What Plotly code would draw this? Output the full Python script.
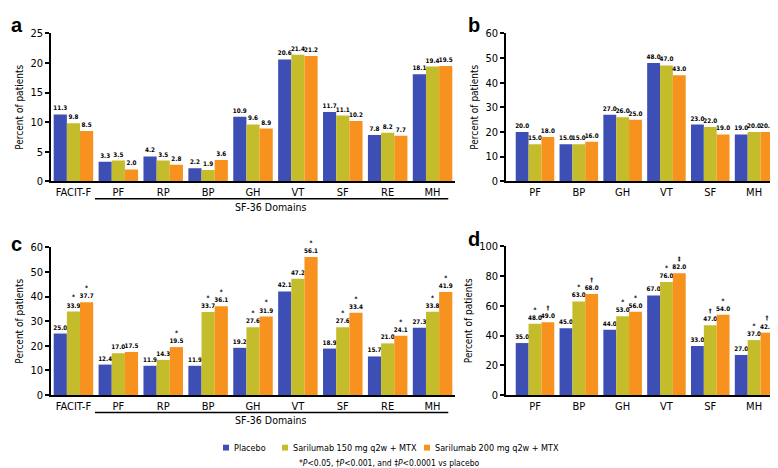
import plotly.graph_objects as go

# ---------------- data ----------------
cats_ac = ["FACIT-F", "PF", "RP", "BP", "GH", "VT", "SF", "RE", "MH"]
cats_bd = ["PF", "BP", "GH", "VT", "SF", "MH"]
series_names = ["Placebo", "Sarilumab 150 mg q2w + MTX", "Sarilumab 200 mg q2w + MTX"]

a_placebo = [11.3, 3.3, 4.2, 2.2, 10.9, 20.6, 11.7, 7.8, 18.1]
a_s150 = [9.8, 3.5, 3.5, 1.9, 9.6, 21.4, 11.1, 8.2, 19.4]
a_s200 = [8.5, 2.0, 2.8, 3.6, 8.9, 21.2, 10.2, 7.7, 19.5]

b_placebo = [20.0, 15.0, 27.0, 48.0, 23.0, 19.0]
b_s150 = [15.0, 15.0, 26.0, 47.0, 22.0, 20.0]
b_s200 = [18.0, 16.0, 25.0, 43.0, 19.0, 20.0]

c_placebo = [25.0, 12.4, 11.9, 11.9, 19.2, 42.1, 18.9, 15.7, 27.3]
c_s150 = [33.9, 17.0, 14.3, 33.7, 27.6, 47.2, 27.6, 21.0, 33.8]
c_s200 = [37.7, 17.5, 19.5, 36.1, 31.9, 56.1, 33.4, 24.1, 41.9]
c_sig150 = ["*", "", "", "*", "*", "", "*", "", "*"]
c_sig200 = ["*", "", "*", "*", "*", "*", "*", "*", "*"]

d_placebo = [35.0, 45.0, 44.0, 67.0, 33.0, 27.0]
d_s150 = [48.0, 63.0, 53.0, 76.0, 47.0, 37.0]
d_s200 = [49.0, 68.0, 56.0, 82.0, 54.0, 42.0]
d_sig150 = ["*", "*", "*", "*", "†", "*"]
d_sig200 = ["†", "†", "*", "‡", "*", "†"]

yticks_a = [0, 5, 10, 15, 20, 25]
yticks_b = [0, 10, 20, 30, 40, 50, 60]
yticks_c = [0, 10, 20, 30, 40, 50, 60]
yticks_d = [0, 20, 40, 60, 80, 100]

colors = ["#3d4fb4", "#c5bc2b", "#f7921e"]

# ---------------- layout helpers ----------------
W, H = 778, 468
FONT = "DejaVu Sans Condensed, Liberation Sans Narrow, Arial Narrow, sans-serif"


def px_x(p):
    return p / W


def px_y(p):
    return 1 - p / H


def labels(vals, sig=None):
    out = []
    for i, v in enumerate(vals):
        s = f"{v:.1f}"
        if sig and sig[i]:
            s = f"{sig[i]}<br>{s}"
        out.append(s)
    return out


fig = go.Figure()

panels = [
    ("", cats_ac, [a_placebo, a_s150, a_s200], [None, None, None]),
    ("2", cats_bd, [b_placebo, b_s150, b_s200], [None, None, None]),
    ("3", cats_ac, [c_placebo, c_s150, c_s200], [None, c_sig150, c_sig200]),
    ("4", cats_bd, [d_placebo, d_s150, d_s200], [None, d_sig150, d_sig200]),
]

for suffix, cats, series, sigs in panels:
    for k in range(3):
        fig.add_trace(go.Bar(
            x=cats, y=series[k], name=series_names[k],
            marker=dict(color=colors[k], line=dict(width=0)),
            text=labels(series[k], sigs[k]), textposition="outside",
            textfont=dict(size=6.3, color="black", family=FONT, weight="bold"),
            constraintext="none", cliponaxis=False,
            showlegend=False,
            xaxis="x" + suffix, yaxis="y" + suffix,
            hoverinfo="skip",
        ))

axis_common_x = dict(showline=True, linecolor="black", linewidth=1.5, ticks="",
                     showgrid=False, zeroline=False, type="category",
                     tickfont=dict(size=11, color="black", family=FONT))
axis_common_y = dict(showline=True, linecolor="black", linewidth=1.5, ticks="outside",
                     ticklen=4, tickcolor="black", tickwidth=1.5, showgrid=False, zeroline=False,
                     tickfont=dict(size=11, color="black", family=FONT),
                     title=dict(text="Percent of patients", font=dict(size=10, color="black", family=FONT),
                                standoff=5))

left_dom = [px_x(43), px_x(447)]
right_end = 768
right_dom = [px_x(498), px_x(right_end)]
step_bd = (right_end - 527) / 5.5
bd_left = -(527 - 498) / step_bd

fig.update_layout(
    width=W, height=H,
    margin=dict(l=0, r=0, t=0, b=0),
    paper_bgcolor="white", plot_bgcolor="white",
    barmode="group", bargap=0.12, bargroupgap=0,
    font=dict(family=FONT, color="black"),
    showlegend=False,
    xaxis=dict(axis_common_x, domain=left_dom, range=[-0.5, 8.5], anchor="y"),
    yaxis=dict(axis_common_y, domain=[px_y(172), px_y(20)], range=[0, 25], tickvals=yticks_a, anchor="x"),
    xaxis2=dict(axis_common_x, domain=right_dom, range=[bd_left, 5.5], anchor="y2"),
    yaxis2=dict(axis_common_y, domain=[px_y(172), px_y(20)], range=[0, 60], tickvals=yticks_b, anchor="x2"),
    xaxis3=dict(axis_common_x, domain=left_dom, range=[-0.5, 8.5], anchor="y3"),
    yaxis3=dict(axis_common_y, domain=[px_y(392), px_y(240)], range=[0, 60], tickvals=yticks_c, anchor="x3"),
    xaxis4=dict(axis_common_x, domain=right_dom, range=[bd_left, 5.5], anchor="y4"),
    yaxis4=dict(axis_common_y, domain=[px_y(392), px_y(239)], range=[0, 100], tickvals=yticks_d, anchor="x4"),
)

# SF-36 domain underline + label for panels a and c
for xr, ypix in [("x", 190), ("x3", 410)]:
    fig.add_shape(type="line", xref=xr, yref="paper", x0=0.48, x1=8.35,
                  y0=px_y(ypix), y1=px_y(ypix), line=dict(color="black", width=1.5))
    fig.add_annotation(xref=xr, yref="paper", x=4.41, y=px_y(ypix + 8), text="SF-36 Domains",
                       showarrow=False, yanchor="middle",
                       font=dict(size=10.5, color="black", family=FONT))

# panel letters
for letter, xp, yp in [("a", 1, 11), ("b", 458, 11), ("c", 1, 237), ("d", 458, 231)]:
    fig.add_annotation(xref="paper", yref="paper", x=px_x(xp), y=px_y(yp), text=f"<b>{letter}</b>",
                       showarrow=False, xanchor="left", yanchor="middle",
                       font=dict(size=20, color="black", family="Liberation Sans, Arial, sans-serif"))

# legend (drawn as key squares + labels)
legend_sq_x = [215, 274, 416]
legend_txt_x = [224, 283, 425]
legend_y = 446
for k in range(3):
    fig.add_shape(type="rect", xref="paper", yref="paper",
                  x0=px_x(legend_sq_x[k]), x1=px_x(legend_sq_x[k] + 6),
                  y0=px_y(legend_y + 3), y1=px_y(legend_y - 3),
                  fillcolor=colors[k], line=dict(width=0))
    fig.add_annotation(xref="paper", yref="paper", x=px_x(legend_txt_x[k]), y=px_y(legend_y),
                       text=series_names[k], showarrow=False, xanchor="left", yanchor="middle",
                       font=dict(size=9, color="black", family=FONT))

# footnote
fig.add_annotation(xref="paper", yref="paper", x=px_x(381), y=px_y(462),
                   text="*<i>P</i><0.05, †<i>P</i><0.001, and ‡<i>P</i><0.0001 vs placebo",
                   showarrow=False, xanchor="center", yanchor="middle",
                   font=dict(size=8.5, color="black", family=FONT))

fig.write_html("out.html")
